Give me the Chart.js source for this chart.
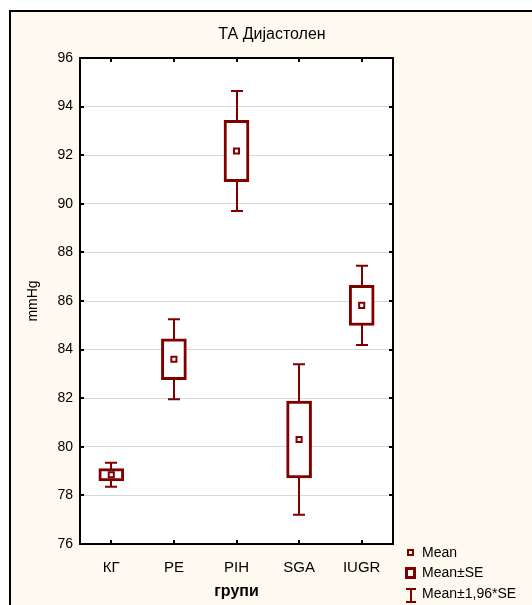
<!DOCTYPE html>
<html>
<head>
<meta charset="utf-8">
<script src="https://cdn.jsdelivr.net/npm/chart.js@4"></script>
<style>
  body { margin: 0; background: #fff; }
  #wrap { position: relative; width: 532px; height: 605px; overflow: hidden; }
  #frame { position: absolute; left: 9px; top: 10px; width: 600px; height: 700px;
           border-left: 2px solid #000; border-top: 2px solid #000; background: #fffaf0; }
  canvas { position: absolute; left: 0; top: 0; }
</style>
</head>
<body>
<div id="wrap">
  <div id="frame"></div>
  <canvas id="myChart" width="532" height="605"></canvas>
</div>
<script>
var groups = ["КГ", "PE", "PIH", "SGA", "IUGR"];
var means = [78.85, 83.6, 92.17, 80.3, 85.82];
var se = [0.25, 0.84, 1.26, 1.58, 0.83];
var yTicks = [76, 78, 80, 82, 84, 86, 88, 90, 92, 94, 96];
var legendLabels = ["Mean", "Mean±SE", "Mean±1,96*SE"];

var red = "#800000";
Chart.defaults.font.family = "'Liberation Sans', Arial, sans-serif";
Chart.defaults.color = "#000";

// white plot area
var plotBg = {
  id: "plotBg",
  beforeDraw: function (chart) {
    var a = chart.chartArea;
    chart.ctx.save();
    chart.ctx.fillStyle = "#fff";
    chart.ctx.fillRect(a.left, a.top, a.right - a.left, a.bottom - a.top);
    chart.ctx.restore();
  }
};

// mean ± 1.96*SE whiskers, drawn under the boxes
var whiskers = {
  id: "whiskers",
  beforeDatasetsDraw: function (chart) {
    var ctx = chart.ctx, x = chart.scales.x, y = chart.scales.y;
    ctx.save();
    ctx.strokeStyle = red;
    ctx.lineWidth = 2;
    for (var i = 0; i < groups.length; i++) {
      var cx = Math.round(x.getPixelForValue(i));
      var lo = y.getPixelForValue(means[i] - 1.96 * se[i]);
      var hi = y.getPixelForValue(means[i] + 1.96 * se[i]);
      ctx.beginPath();
      ctx.moveTo(cx, lo); ctx.lineTo(cx, hi);
      ctx.moveTo(cx - 6, lo); ctx.lineTo(cx + 6, lo);
      ctx.moveTo(cx - 6, hi); ctx.lineTo(cx + 6, hi);
      ctx.stroke();
    }
    ctx.restore();
  }
};

// black frame with inner tick marks on all four sides, plus legend
var frame = {
  id: "frame",
  afterDraw: function (chart) {
    var ctx = chart.ctx, a = chart.chartArea, x = chart.scales.x, y = chart.scales.y;
    ctx.save();
    ctx.strokeStyle = "#000";
    ctx.lineWidth = 2;
    ctx.strokeRect(a.left, a.top, a.right - a.left, a.bottom - a.top);
    ctx.beginPath();
    yTicks.forEach(function (v) {
      var py = Math.round(y.getPixelForValue(v));
      ctx.moveTo(a.left, py); ctx.lineTo(a.left + 4, py);
      ctx.moveTo(a.right, py); ctx.lineTo(a.right - 4, py);
    });
    groups.forEach(function (g, i) {
      var px = Math.round(x.getPixelForValue(i));
      ctx.moveTo(px, a.bottom); ctx.lineTo(px, a.bottom - 4);
      ctx.moveTo(px, a.top); ctx.lineTo(px, a.top + 4);
    });
    ctx.stroke();

    // legend
    ctx.strokeStyle = red;
    ctx.lineWidth = 2;
    ctx.strokeRect(408, 550, 5, 5);
    ctx.lineWidth = 3;
    ctx.strokeRect(406.5, 568.5, 8, 9);
    ctx.lineWidth = 2;
    ctx.beginPath();
    ctx.moveTo(411, 589); ctx.lineTo(411, 602);
    ctx.moveTo(406, 589); ctx.lineTo(416, 589);
    ctx.moveTo(406, 602); ctx.lineTo(416, 602);
    ctx.stroke();
    ctx.fillStyle = "#000";
    ctx.font = "14px 'Liberation Sans', Arial, sans-serif";
    ctx.textBaseline = "middle";
    ctx.fillText(legendLabels[0], 422, 553);
    ctx.fillText(legendLabels[1], 422, 573);
    ctx.fillText(legendLabels[2], 422, 594);
    ctx.restore();
  }
};

var ctx = document.getElementById("myChart").getContext("2d");
var chart = new Chart(ctx, {
  type: "bar",
  data: {
    labels: groups,
    datasets: [
      {
        type: "line",
        label: "Mean",
        data: means,
        showLine: false,
        pointStyle: "rect",
        pointRadius: 3.6,
        borderWidth: 2,
        borderColor: red,
        backgroundColor: "#fff",
        order: 0
      },
      {
        label: "Mean±SE",
        data: groups.map(function (g, i) { return [means[i] - se[i], means[i] + se[i]]; }),
        backgroundColor: "#fff",
        borderColor: red,
        borderWidth: 3,
        borderSkipped: false,
        barThickness: 25,
        order: 1
      }
    ]
  },
  options: {
    responsive: false,
    animation: false,
    devicePixelRatio: 1,
    layout: { padding: { left: 12, right: 0, top: 0, bottom: 0 } },
    plugins: {
      legend: { display: false },
      tooltip: { enabled: false },
      title: {
        display: true,
        text: "ТА Дијастолен",
        font: { size: 16, weight: "normal" },
        color: "#000",
        padding: { top: 25, bottom: 13.8 }
      }
    },
    scales: {
      x: {
        grid: { display: false },
        border: { display: false },
        ticks: { font: { size: 15 }, padding: 7 },
        title: { display: true, text: "групи", font: { size: 16, weight: "bold" }, padding: { top: 0, bottom: 4 } },
        afterFit: function (s) { s.height = 61; }
      },
      y: {
        min: 76,
        max: 96,
        afterBuildTicks: function (s) { s.ticks = yTicks.map(function (v) { return { value: v }; }); },
        grid: { color: "#d9d9d9", drawTicks: false },
        border: { display: false },
        ticks: { font: { size: 14 }, padding: 7 },
        title: { display: true, text: "mmHg", font: { size: 14 }, padding: { top: 12.6, bottom: 0 } },
        afterFit: function (s) { s.width = 68; }
      },
      yr: {
        type: "linear",
        position: "right",
        grid: { display: false },
        border: { display: false },
        ticks: { display: false },
        afterFit: function (s) { s.width = 139; }
      }
    }
  },
  plugins: [plotBg, whiskers, frame]
});
</script>
</body>
</html>
